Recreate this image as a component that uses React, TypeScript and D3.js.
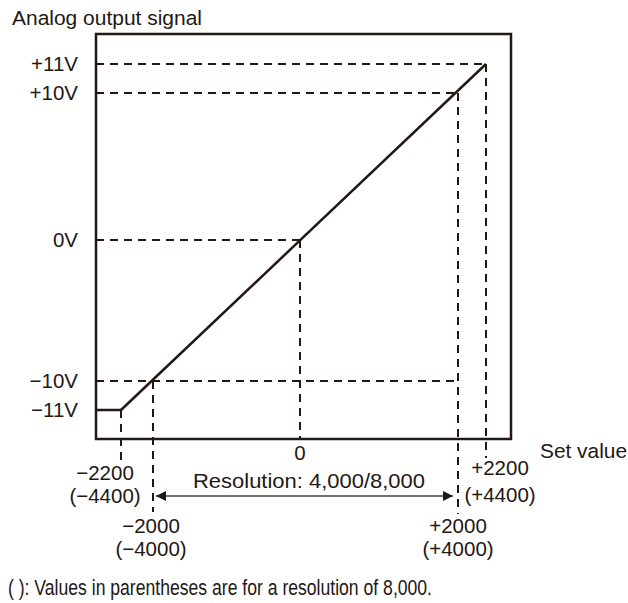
import React from "react";
import * as d3 from "d3";

const setValues = [-2200, -2000, 0, 2000, 2200];
const labels4000 = ["\u22122200", "\u22122000", "0", "+2000", "+2200"];
const labels8000 = ["(\u22124400)", "(\u22124000)", "", "(+4000)", "(+4400)"];
const voltages = [-11, -10, 0, 10, 11];
const voltLabels = ["\u221211V", "\u221210V", "0V", "+10V", "+11V"];
// set value at which each voltage's dashed guide ends
const guideEnds = [null, 2000, 0, 2000, 2200];
const outputPoints: [number, number][] = [[-2200, -11], [2200, 11]];

const INK = "#231815";
const FONT = "'Liberation Sans', Arial, Helvetica, sans-serif";

export default function App() {
  const W = 628, H = 603;
  const FS = 20.5;
  const frame = { left: 96, top: 34, right: 511, bottom: 439 };
  const x = d3.scaleLinear().domain(setValues).range([121, 153, 300, 458, 486]);
  const y = d3.scaleLinear().domain(voltages).range([410, 381, 240, 93, 64]);
  const line = d3.line<[number, number]>().x(d => x(d[0])).y(d => y(d[1]));

  const vBottoms = [460, 512, frame.bottom, 514, 458];
  const vFrom = [-11, -10, 0, 10, 11];
  const labelPos = [
    { x: 105, y1: 473, y2: 496 },
    { x: 151, y1: 526, y2: 549 },
    { x: 300, y1: 453, y2: 0 },
    { x: 458, y1: 526, y2: 549 },
    { x: 500, y1: 468, y2: 495 },
  ];
  const dash = "8 6";
  const arrowY = 496;

  return (
    <svg width={W} height={H} style={{ position: "absolute", left: 0, top: 0, background: "#fff" }} fontFamily={FONT}>
      <defs>
        <marker id="ah" viewBox="0 0 10 10" refX="10" refY="5" markerWidth="11" markerHeight="10" orient="auto-start-reverse" markerUnits="userSpaceOnUse">
          <path d="M0,0 L10,5 L0,10 Z" fill={INK} />
        </marker>
      </defs>
      <text x={12} y={25} fontSize={FS} fill={INK} textLength={190} lengthAdjust="spacingAndGlyphs">Analog output signal</text>

      {voltages.map((v, i) =>
        guideEnds[i] === null ? null : (
          <line key={"h" + i} x1={frame.left} x2={x(guideEnds[i] as number)} y1={y(v)} y2={y(v)}
            stroke={INK} strokeWidth={2} strokeDasharray={dash} />
        )
      )}
      {setValues.map((s, i) => (
        <line key={"v" + i} x1={x(s)} x2={x(s)} y1={y(vFrom[i])} y2={vBottoms[i]}
          stroke={INK} strokeWidth={2} strokeDasharray={dash} />
      ))}

      <rect x={frame.left} y={frame.top} width={frame.right - frame.left} height={frame.bottom - frame.top}
        fill="none" stroke={INK} strokeWidth={2.5} />

      <line x1={frame.left} x2={x(outputPoints[0][0])} y1={y(outputPoints[0][1])} y2={y(outputPoints[0][1])}
        stroke={INK} strokeWidth={2.5} />
      <path d={line(outputPoints) || ""} fill="none" stroke={INK} strokeWidth={2.5} />

      {voltages.map((v, i) => (
        <text key={"vl" + i} x={78} y={y(v)} dy="0.35em" textAnchor="end" fontSize={FS} fill={INK}>{voltLabels[i]}</text>
      ))}

      {setValues.map((s, i) => (
        <g key={"sl" + i}>
          <text x={labelPos[i].x} y={labelPos[i].y1} dy="0.35em" textAnchor="middle" fontSize={FS} fill={INK}>{labels4000[i]}</text>
          {labels8000[i] && (
            <text x={labelPos[i].x} y={labelPos[i].y2} dy="0.35em" textAnchor="middle" fontSize={FS} fill={INK}>{labels8000[i]}</text>
          )}
        </g>
      ))}

      <text x={540} y={458} fontSize={FS} fill={INK} textLength={87} lengthAdjust="spacingAndGlyphs">Set value</text>

      <line x1={x(-2000) + 3} x2={x(2000) - 5} y1={arrowY} y2={arrowY} stroke="#444" strokeWidth={1.3}
        markerStart="url(#ah)" markerEnd="url(#ah)" />
      <text x={193} y={488} fontSize={FS} fill={INK} textLength={232} lengthAdjust="spacingAndGlyphs">Resolution: 4,000/8,000</text>

      <text x={8} y={595} fontSize={22} fill={INK} textLength={424} lengthAdjust="spacingAndGlyphs">( ): Values in parentheses are for a resolution of 8,000.</text>
    </svg>
  );
}
